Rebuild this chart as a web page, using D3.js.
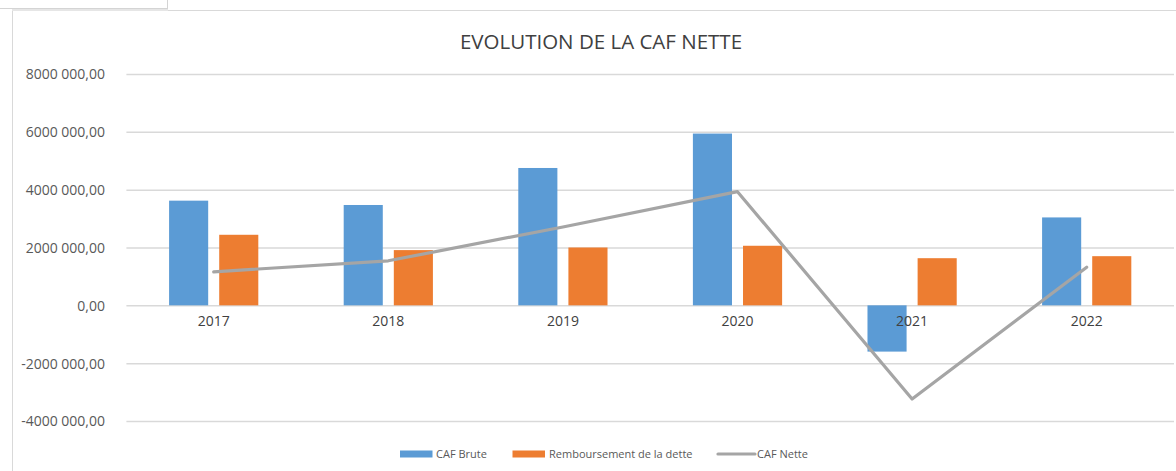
<!DOCTYPE html>
<html>
<head>
<meta charset="utf-8">
<script src="https://cdn.jsdelivr.net/npm/d3@7"></script>
<style>
  html, body { margin: 0; padding: 0; background: #ffffff; }
  svg { display: block; font-family: "Open Sans", "Liberation Sans", sans-serif; }
</style>
</head>
<body>
<svg id="chart" width="1176" height="471"></svg>
<script>
const title = "EVOLUTION DE LA CAF NETTE";
const categories = ["2017", "2018", "2019", "2020", "2021", "2022"];
const seriesNames = ["CAF Brute", "Remboursement de la dette", "CAF Nette"];
const cafBrute = [3620000, 3470000, 4750000, 5940000, -1600000, 3040000];
const remboursement = [2440000, 1910000, 2000000, 2060000, 1630000, 1700000];
const cafNette = [1160000, 1540000, 2710000, 3930000, -3240000, 1320000];
const tickValues = [-4000000, -2000000, 0, 2000000, 4000000, 6000000, 8000000];
const tickLabels = ["-4000 000,00", "-2000 000,00", "0,00", "2000 000,00", "4000 000,00", "6000 000,00", "8000 000,00"];
const colors = ["#5B9BD5", "#ED7D31", "#A5A5A5"];

const svg = d3.select("#chart");
const W = 1176, H = 471;
const plot = { left: 126.4, right: 1174, top: 74, bottom: 421 };

// frame
svg.append("rect").attr("x", 12.5).attr("y", 10.5).attr("width", W).attr("height", H)
  .attr("fill", "#ffffff").attr("stroke", "#d9d9d9").attr("stroke-width", 1);
// top-left overlay box (cell)
svg.append("rect").attr("x", -2).attr("y", -2).attr("width", 169.5).attr("height", 10.5)
  .attr("fill", "#ffffff").attr("stroke", "#d4d4d4").attr("stroke-width", 1);
svg.append("line").attr("x1", 12).attr("x2", 168).attr("y1", 10).attr("y2", 10)
  .attr("stroke", "#e6e6e6").attr("stroke-width", 2);

const y = d3.scaleLinear().domain([-4000000, 8000000]).range([plot.bottom, plot.top]);
const x = d3.scaleBand().domain(categories).range([plot.left, plot.right]).paddingInner(0).paddingOuter(0);
const groupW = x.bandwidth() * 0.511;
const xs = d3.scaleBand().domain([0, 1]).range([0, groupW]).paddingInner(0.22).paddingOuter(0);

// gridlines
const grid = d3.axisLeft(y).tickValues(tickValues).tickSize(-(plot.right - plot.left)).tickFormat("");
const gg = svg.append("g").attr("transform", `translate(${plot.left},0)`).call(grid);
gg.select(".domain").remove();
gg.selectAll(".tick line").attr("stroke", "#d9d9d9").attr("stroke-width", 1.5);

// y labels
const yl = d3.axisLeft(y).tickValues(tickValues).tickSize(0).tickPadding(0)
  .tickFormat((d, i) => tickLabels[i]);
const yg = svg.append("g").attr("transform", `translate(105,0)`).call(yl);
yg.select(".domain").remove();
yg.selectAll("text").attr("fill", "#595959").style("font-size", "14px")
  .style("font-family", "'Open Sans', sans-serif").attr("dy", "0.35em");

// bars
const barData = [cafBrute, remboursement];
barData.forEach((vals, si) => {
  svg.append("g").selectAll("rect").data(vals).join("rect")
    .attr("x", (d, i) => x(categories[i]) + (x.bandwidth() - groupW) / 2 + xs(si))
    .attr("width", xs.bandwidth())
    .attr("y", d => y(Math.max(0, d)))
    .attr("height", d => Math.abs(y(d) - y(0)))
    .attr("fill", colors[si]);
});

// category labels (just below zero line)
svg.append("g").selectAll("text").data(categories).join("text")
  .attr("x", d => x(d) + x.bandwidth() / 2)
  .attr("y", y(0) + 21)
  .attr("text-anchor", "middle")
  .attr("fill", "#404040")
  .style("font-size", "14px")
  .text(d => d);

// line
const line = d3.line().x((d, i) => x(categories[i]) + x.bandwidth() / 2).y(d => y(d));
svg.append("path").datum(cafNette).attr("d", line)
  .attr("fill", "none").attr("stroke", colors[2]).attr("stroke-width", 3.2)
  .attr("stroke-linejoin", "round").attr("stroke-linecap", "round");

// title
svg.append("text").attr("x", 601).attr("y", 48.5).attr("text-anchor", "middle")
  .attr("fill", "#404040").style("font-size", "20.5px").text(title);

// legend
const legY = 454;
const legItems = [
  { sx: 400, sw: 32.5, tx: 436, type: "rect" },
  { sx: 512.5, sw: 32.5, tx: 549, type: "rect" },
  { sx: 718, sw: 37, tx: 757, type: "line" }
];
legItems.forEach((it, i) => {
  if (it.type === "rect") {
    svg.append("rect").attr("x", it.sx).attr("y", legY - 3.5).attr("width", it.sw).attr("height", 7)
      .attr("fill", colors[i]);
  } else {
    svg.append("line").attr("x1", it.sx).attr("x2", it.sx + it.sw).attr("y1", legY).attr("y2", legY)
      .attr("stroke", colors[i]).attr("stroke-width", 3.2).attr("stroke-linecap", "round");
  }
  svg.append("text").attr("x", it.tx).attr("y", legY).attr("dy", "0.35em")
    .attr("fill", "#595959").style("font-size", "11px").text(seriesNames[i]);
});
</script>
</body>
</html>
